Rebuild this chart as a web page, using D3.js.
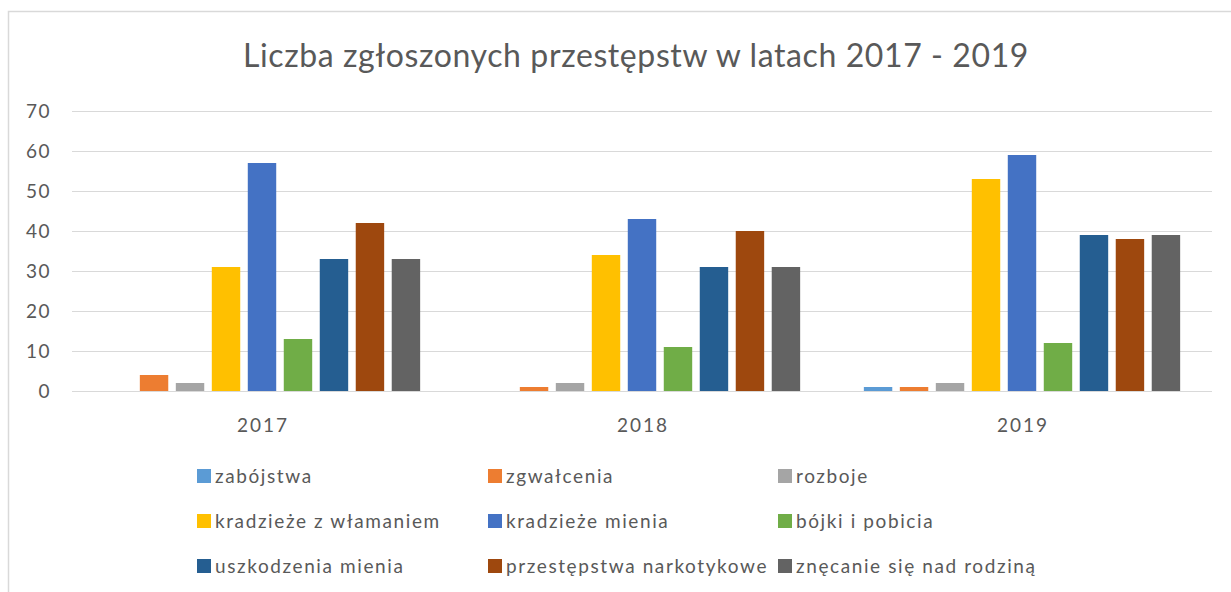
<!DOCTYPE html>
<html>
<head>
<meta charset="utf-8">
<script src="https://cdn.jsdelivr.net/npm/d3@7"></script>
<style>
  body { margin: 0; background: #fff; }
  text { font-family: Lato, "Open Sans", sans-serif; fill: #595959; }
</style>
</head>
<body>
<div id="chart"></div>
<script>
// data
var years = ["2017", "2018", "2019"]
var categories = ["zabójstwa", "zgwałcenia", "rozboje", "kradzieże z włamaniem", "kradzieże mienia",
                  "bójki i pobicia", "uszkodzenia mienia", "przestępstwa narkotykowe", "znęcanie się nad rodziną"]
var values2017 = [0, 4, 2, 31, 57, 13, 33, 42, 33]
var values2018 = [0, 1, 2, 34, 43, 11, 31, 40, 31]
var values2019 = [1, 1, 2, 53, 59, 12, 39, 38, 39]
var colors = ["#5B9BD5", "#ED7D31", "#A5A5A5", "#FFC000", "#4472C4", "#70AD47", "#255E91", "#9E480E", "#636363"]
var yTicks = [0, 10, 20, 30, 40, 50, 60, 70]
var title = "Liczba zgłoszonych przestępstw w latach 2017 - 2019"

var seriesByYear = [values2017, values2018, values2019]

var width = 1231
var height = 592
var plotLeft = 72, plotRight = 1212, plotTop = 111, plotBottom = 391

var svg = d3.select("#chart").append("svg")
  .attr("width", width)
  .attr("height", height)

// chart frame (only top and left edges visible in the picture)
svg.append("rect")
  .attr("x", 8.5).attr("y", 11.5)
  .attr("width", 1240).attr("height", 600)
  .attr("fill", "none")
  .attr("stroke", "#d9d9d9")
  .attr("stroke-width", 1.5)

svg.append("text")
  .attr("x", 636).attr("y", 67)
  .attr("text-anchor", "middle")
  .style("font-size", "32px")
  .style("letter-spacing", "0.6px")
  .text(title)

var y = d3.scaleLinear().domain([0, 70]).range([plotBottom, plotTop])

var x0 = d3.scaleBand().domain(years).range([plotLeft, plotRight]).padding(0)
var x1 = d3.scaleBand().domain(categories).range([0, x0.bandwidth()])
  .paddingInner(0.21).paddingOuter(0.885)

// gridlines
svg.append("g")
  .selectAll("line")
  .data(yTicks)
  .enter().append("line")
  .attr("x1", plotLeft).attr("x2", plotRight)
  .attr("y1", function(d) { return Math.round(y(d)) + 0.5 })
  .attr("y2", function(d) { return Math.round(y(d)) + 0.5 })
  .attr("stroke", "#d9d9d9")
  .attr("stroke-width", 1)

// y axis labels
var yAxis = d3.axisLeft(y).tickValues(yTicks).tickSize(0).tickPadding(0)
var yg = svg.append("g")
  .attr("transform", "translate(51,0)")
  .call(yAxis)
yg.select(".domain").remove()
yg.selectAll("text")
  .style("font-size", "19px")
  .style("letter-spacing", "1.5px")
  .attr("fill", "#595959")

// bars
var groups = svg.append("g").selectAll("g")
  .data(seriesByYear)
  .enter().append("g")
  .attr("transform", function(d, i) { return "translate(" + x0(years[i]) + ",0)" })

groups.selectAll("rect")
  .data(function(d) { return d })
  .enter().append("rect")
  .attr("x", function(d, i) { return x1(categories[i]) })
  .attr("y", function(d) { return y(d) })
  .attr("width", x1.bandwidth())
  .attr("height", function(d) { return plotBottom - y(d) })
  .attr("fill", function(d, i) { return colors[i] })

// x axis labels
var xAxis = d3.axisBottom(x0).tickSize(0).tickPadding(0)
var xg = svg.append("g")
  .attr("transform", "translate(1," + (plotBottom + 27) + ")")
  .call(xAxis)
xg.select(".domain").remove()
xg.selectAll("text")
  .style("font-size", "19px")
  .style("letter-spacing", "2px")
  .attr("fill", "#595959")

// legend, 3 columns
var legendX = [197, 488, 778]
var legendY = [469, 514, 559]
var legend = svg.append("g").selectAll("g")
  .data(categories)
  .enter().append("g")
  .attr("transform", function(d, i) {
    return "translate(" + legendX[i % 3] + "," + legendY[Math.floor(i / 3)] + ")"
  })

legend.append("rect")
  .attr("width", 14).attr("height", 14)
  .attr("fill", function(d, i) { return colors[i] })

legend.append("text")
  .attr("x", 18).attr("y", 14)
  .style("font-size", "19px")
  .style("letter-spacing", "1.6px")
  .text(function(d) { return d })
</script>
</body>
</html>
